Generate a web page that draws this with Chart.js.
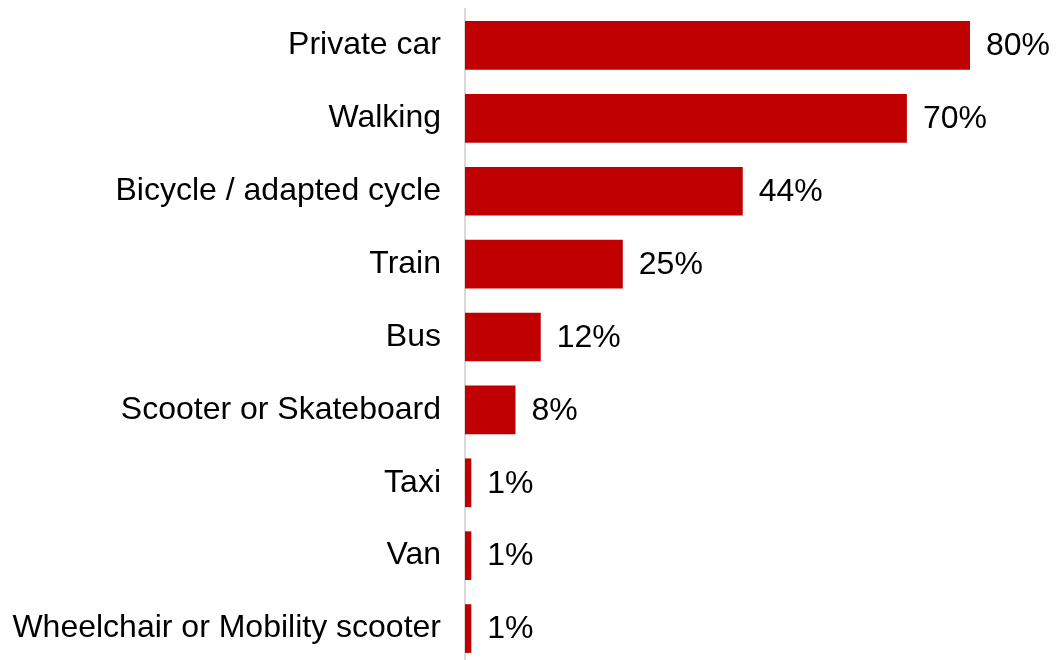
<!DOCTYPE html>
<html>
<head>
<meta charset="utf-8">
<script src="https://cdn.jsdelivr.net/npm/chart.js@4/dist/chart.umd.min.js"></script>
<style>
  html, body { margin: 0; padding: 0; background: #fff; overflow: hidden; }
  #wrap { position: relative; width: 1056px; height: 665px; }
</style>
</head>
<body>
<div id="wrap"><canvas id="chart"></canvas></div>
<script>
// Data
const categories = [
    "Private car",
    "Walking",
    "Bicycle / adapted cycle",
    "Train",
    "Bus",
    "Scooter or Skateboard",
    "Taxi",
    "Van",
    "Wheelchair or Mobility scooter"
];
const shares = [80, 70, 44, 25, 12, 8, 1, 1, 1];

const FONT = "'Liberation Sans', Arial, sans-serif";
const FONT_SIZE = 32;

// value labels at the end of each bar
const valueLabels = {
    id: "valueLabels",
    afterDatasetsDraw(chart) {
        const ctx = chart.ctx;
        const meta = chart.getDatasetMeta(0);
        ctx.save();
        ctx.font = `${FONT_SIZE}px ${FONT}`;
        ctx.fillStyle = "#000";
        ctx.textAlign = "left";
        ctx.textBaseline = "middle";
        meta.data.forEach((bar, i) => {
            ctx.fillText(shares[i] + "%", bar.x + 16, bar.y + 1);
        });
        ctx.restore();
    }
};

new Chart(document.getElementById("chart"), {
    type: "bar",
    data: {
        labels: categories,
        datasets: [{
            data: shares,
            backgroundColor: "#C00000",
            borderWidth: 0,
            categoryPercentage: 1,
            barPercentage: 0.668
        }]
    },
    options: {
        indexAxis: "y",
        responsive: true,
        maintainAspectRatio: false,
        animation: false,
        layout: { padding: { top: 9, right: 86, left: 0, bottom: 0 } },
        plugins: {
            legend: { display: false },
            tooltip: { enabled: false }
        },
        scales: {
            x: {
                display: false,
                min: 0,
                max: 80
            },
            y: {
                afterFit: (scale) => {
                    scale.width = 465;
                    scale.paddingTop = 0;
                    scale.paddingBottom = 0;
                },
                grid: { display: false, drawTicks: false },
                border: { display: true, color: "#D9D9D9", width: 2 },
                ticks: {
                    color: "#000",
                    padding: 24,
                    font: { family: FONT, size: FONT_SIZE }
                }
            }
        }
    },
    plugins: [valueLabels]
});
</script>
</body>
</html>
